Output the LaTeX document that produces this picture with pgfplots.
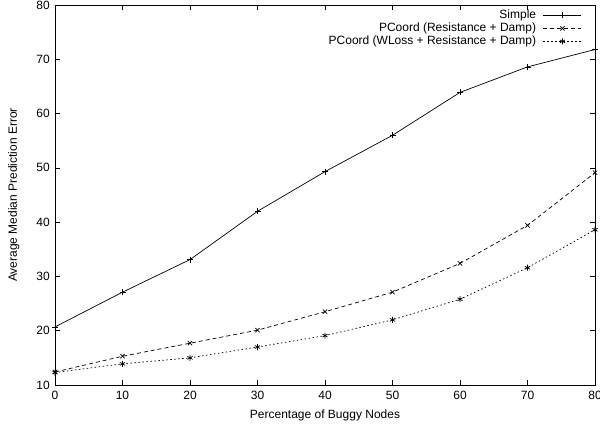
\documentclass[border=0pt]{standalone}
\usepackage{fontspec}
\setmainfont{Liberation Sans}
\usepackage{pgfplots}
\pgfplotsset{compat=1.18}
\begin{document}
\fontsize{12bp}{14bp}\selectfont
\begin{tikzpicture}
\begin{axis}[
  scale only axis,
  width=540bp, height=380bp,
  xmin=0, xmax=80, ymin=10, ymax=80,
  xtick={0,10,...,80}, ytick={10,20,...,80},
  tick align=inside,
  major tick length=5bp,
  axis line style={line width=0.9pt},
  every tick/.style={black, line width=0.7pt},
  /pgf/number format/assume math mode=true,
  ticklabel style={font=\fontsize{12bp}{14bp}\selectfont},
  xticklabel style={yshift=-2bp},
  yticklabel style={xshift=-1bp},
  label style={font=\fontsize{12bp}{14bp}\selectfont},
  xlabel={Percentage of Buggy Nodes},
  ylabel={Average Median Prediction Error},
  xlabel style={yshift=-2bp},
  ylabel style={yshift=9bp},
  legend style={draw=none, fill=none, at={(1,1)}, xshift=-13bp, yshift=-3bp, anchor=north east,
    font=\fontsize{12bp}{12bp}\selectfont, row sep=-1.5bp, inner sep=0pt,
    column sep=5bp},
  legend cell align=right,
  legend plot pos=right,
  legend image code/.code={\draw[mark repeat=2,mark phase=2,#1] plot coordinates {(0bp,0bp) (19bp,0bp) (38bp,0bp)};},
]
\addplot[black, line width=0.7pt, mark=+, mark size=3bp, mark options={solid}] coordinates {
 (0,20.7) (10,27.1) (20,33.1) (30,42.0) (40,49.3) (50,56.0) (60,63.9) (70,68.6) (80,71.8)};
\addlegendentry{Simple}
\addplot[black, line width=0.7pt, dash pattern=on 4bp off 3bp, mark=x, mark size=3bp, mark options={solid}] coordinates {
 (0,12.4) (10,15.3) (20,17.7) (30,20.1) (40,23.5) (50,27.1) (60,32.4) (70,39.4) (80,49.1)};
\addlegendentry{PCoord (Resistance + Damp)}
\addplot[black, line width=0.7pt, dash pattern=on 1.5bp off 2.5bp, mark=asterisk, mark size=3bp, mark options={solid}] coordinates {
 (0,12.3) (10,13.9) (20,15.0) (30,17.0) (40,19.1) (50,22.0) (60,25.8) (70,31.6) (80,38.6)};
\addlegendentry{PCoord (WLoss + Resistance + Damp)}
\coordinate (ll) at (rel axis cs:0,0);
\coordinate (ur) at (rel axis cs:1,1);
\end{axis}
\pgfresetboundingbox
\path ([shift={(-55bp,-43bp)}]ll) rectangle ([shift={(5bp,5bp)}]ur);
\end{tikzpicture}
\end{document}
